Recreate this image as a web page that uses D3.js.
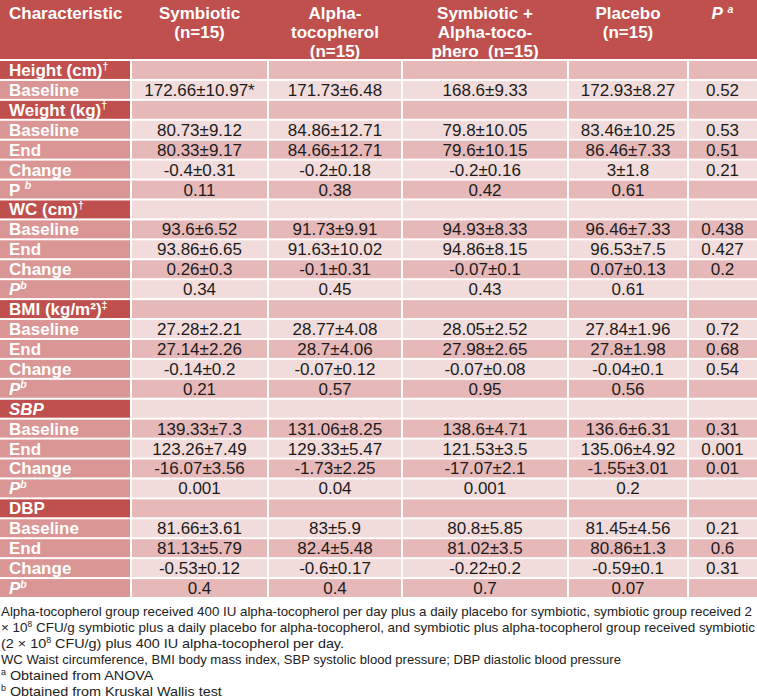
<!DOCTYPE html>
<html>
<head>
<meta charset="utf-8">
<script src="https://cdn.jsdelivr.net/npm/d3@7"></script>
<style>
  html, body { margin: 0; padding: 0; background: #fff; }
  svg { display: block; }
</style>
</head>
<body>
<svg id="chart" width="757" height="698"></svg>
<script>
// ---------- data ----------
const headers = [
  ["Characteristic"],
  ["Symbiotic", "(n=15)"],
  ["Alpha-", "tocopherol", "(n=15)"],
  ["Symbiotic +", "Alpha-toco-", "phero  (n=15)"],
  ["Placebo", "(n=15)"],
  ["~P~ ^a"]
];
const rowLabels = ["Height (cm)^†","Baseline","Weight (kg)^†","Baseline","End","Change","P ^b",
  "WC (cm)^†","Baseline","End","Change","~P~^b",
  "BMI (kg/m²)^‡","Baseline","End","Change","~P~^b",
  "~SBP~","Baseline","End","Change","~P~^b",
  "DBP","Baseline","End","Change","~P~^b"];
const sectionRows = [0, 2, 7, 12, 17, 22];
const symbiotic = ["", "172.66±10.97*", "", "80.73±9.12", "80.33±9.17", "-0.4±0.31", "0.11",
  "", "93.6±6.52", "93.86±6.65", "0.26±0.3", "0.34",
  "", "27.28±2.21", "27.14±2.26", "-0.14±0.2", "0.21",
  "", "139.33±7.3", "123.26±7.49", "-16.07±3.56", "0.001",
  "", "81.66±3.61", "81.13±5.79", "-0.53±0.12", "0.4"];
const alphaToco = ["", "171.73±6.48", "", "84.86±12.71", "84.66±12.71", "-0.2±0.18", "0.38",
  "", "91.73±9.91", "91.63±10.02", "-0.1±0.31", "0.45",
  "", "28.77±4.08", "28.7±4.06", "-0.07±0.12", "0.57",
  "", "131.06±8.25", "129.33±5.47", "-1.73±2.25", "0.04",
  "", "83±5.9", "82.4±5.48", "-0.6±0.17", "0.4"];
const symbioticAlpha = ["", "168.6±9.33", "", "79.8±10.05", "79.6±10.15", "-0.2±0.16", "0.42",
  "", "94.93±8.33", "94.86±8.15", "-0.07±0.1", "0.43",
  "", "28.05±2.52", "27.98±2.65", "-0.07±0.08", "0.95",
  "", "138.6±4.71", "121.53±3.5", "-17.07±2.1", "0.001",
  "", "80.8±5.85", "81.02±3.5", "-0.22±0.2", "0.7"];
const placebo = ["", "172.93±8.27", "", "83.46±10.25", "86.46±7.33", "3±1.8", "0.61",
  "", "96.46±7.33", "96.53±7.5", "0.07±0.13", "0.61",
  "", "27.84±1.96", "27.8±1.98", "-0.04±0.1", "0.56",
  "", "136.6±6.31", "135.06±4.92", "-1.55±3.01", "0.2",
  "", "81.45±4.56", "80.86±1.3", "-0.59±0.1", "0.07"];
const pValueA = ["", "0.52", "", "0.53", "0.51", "0.21", "",
  "", "0.438", "0.427", "0.2", "",
  "", "0.72", "0.68", "0.54", "",
  "", "0.31", "0.001", "0.01", "",
  "", "0.21", "0.6", "0.31", ""];
const footnotes = [
  "Alpha-tocopherol group received 400 IU alpha-tocopherol per day plus a daily placebo for symbiotic, symbiotic group received 2",
  "× 10^8 CFU/g symbiotic plus a daily placebo for alpha-tocopherol, and symbiotic plus alpha-tocopherol group received symbiotic",
  "(2 × 10^8 CFU/g) plus 400 IU alpha-tocopherol per day.",
  "WC Waist circumference, BMI body mass index, SBP systolic blood pressure; DBP diastolic blood pressure",
  "^a Obtained from ANOVA",
  "^b Obtained from Kruskal Wallis test"
];

// ---------- layout ----------
const W = 757;
const colEdges = [0, 131, 268, 402, 568, 688, 757];
const colKeys = d3.range(6);
const x0 = d3.scaleOrdinal().domain(colKeys).range(colEdges.slice(0, 6));
const x1 = d3.scaleOrdinal().domain(colKeys).range(colEdges.slice(1));
const y = d3.scaleBand().domain(d3.range(rowLabels.length)).range([60, 598]);
const headerH = 59;
const FS = 17;

const C = {
  header: "#c0504d",
  section: "#c0504d",
  item: "#d99694",
  dark: "#e6b9b8",
  light: "#f2dcdb",
  text: "#1c1c1c"
};
const FONT = "'Liberation Sans', Arial, Helvetica, sans-serif";

const svg = d3.select("#chart");
svg.append("rect").attr("width", W).attr("height", 698).attr("fill", "#fff");

// rich text: ^x = superscript char, ~text~ = italic
function rich(textSel, str, fs, supItalic, rise = 0.38) {
  const parts = str.split(/(\^.|~[^~]*~)/).filter(s => s !== "");
  let pendingDown = 0;
  parts.forEach(p => {
    if (p[0] === "^") {
      const ch = p.slice(1);
      textSel.append("tspan").attr("dy", -fs * rise).attr("font-size", fs * 0.62)
        .attr("font-style", supItalic && /[a-z]/.test(ch) ? "italic" : null).text(ch);
      pendingDown = fs * rise;
    } else {
      const t = textSel.append("tspan").attr("dy", pendingDown || null);
      pendingDown = 0;
      if (p[0] === "~") t.attr("font-style", "italic").text(p.slice(1, -1));
      else t.text(p);
    }
  });
}

// header
svg.append("rect").attr("x", 0).attr("y", 0).attr("width", W).attr("height", headerH).attr("fill", C.header);
const hg = svg.append("g").attr("font-family", FONT).attr("font-weight", "bold").attr("font-size", FS).attr("fill", "#fff");
headers.forEach((lines, ci) => {
  lines.forEach((ln, li) => {
    const t = hg.append("text")
      .attr("x", ci === 0 ? 9 : (x0(ci) + x1(ci)) / 2)
      .attr("y", 19 + li * 18.8)
      .attr("text-anchor", ci === 0 ? "start" : "middle")
      .attr("xml:space", "preserve");
    rich(t, ln, FS, true);
  });
});

// body cells
const cols = [null, symbiotic, alphaToco, symbioticAlpha, placebo, pValueA];
const cells = [];
rowLabels.forEach((lab, ri) => {
  colKeys.forEach(ci => {
    cells.push({ ri, ci, text: ci === 0 ? lab : cols[ci][ri] });
  });
});
const gap = 1;
svg.append("g").selectAll("rect").data(cells).join("rect")
  .attr("x", d => x0(d.ci) + (d.ci === 0 ? 0 : gap))
  .attr("y", d => y(d.ri) + gap)
  .attr("width", d => x1(d.ci) - x0(d.ci) - (d.ci === 0 ? gap : 2 * gap) + (d.ci === 5 ? gap : 0))
  .attr("height", y.bandwidth() - 2 * gap)
  .attr("fill", d => {
    if (d.ci === 0) return sectionRows.includes(d.ri) ? C.section : C.item;
    return d.ri % 2 === 0 ? C.dark : C.light;
  });

// labels
const lg = svg.append("g").attr("font-family", FONT).attr("font-weight", "bold").attr("font-size", FS).attr("fill", "#fff");
cells.filter(d => d.ci === 0).forEach(d => {
  const t = lg.append("text").attr("x", 9).attr("y", y(d.ri) + y.bandwidth() / 2 + 6)
    .attr("xml:space", "preserve");
  rich(t, d.text, FS, true);
});

// values
svg.append("g").attr("font-family", FONT).attr("font-size", FS).attr("fill", C.text)
  .selectAll("text").data(cells.filter(d => d.ci > 0 && d.text)).join("text")
  .attr("x", d => (x0(d.ci) + x1(d.ci)) / 2)
  .attr("y", d => y(d.ri) + y.bandwidth() / 2 + 6)
  .attr("text-anchor", "middle")
  .text(d => d.text);

// footnotes (narrow face emulated by a horizontal squeeze; first two lines justified)
const fg = svg.append("g").attr("font-family", FONT).attr("font-size", 13.5).attr("fill", "#222");
const fnTexts = footnotes.map((fn, i) => {
  const t = fg.append("text").attr("x", 1).attr("y", 615.5 + i * 16).attr("xml:space", "preserve");
  rich(t, fn, 13.5, false, 0.3);
  return t;
});
const squeeze = 343 / fnTexts[2].node().getComputedTextLength();
fnTexts.forEach((t, i) => {
  const len = i === 0 ? 751 : i === 1 ? 754 : i === 3 ? 620 : t.node().getComputedTextLength() * squeeze;
  t.attr("textLength", len).attr("lengthAdjust", "spacingAndGlyphs");
});
</script>
</body>
</html>
